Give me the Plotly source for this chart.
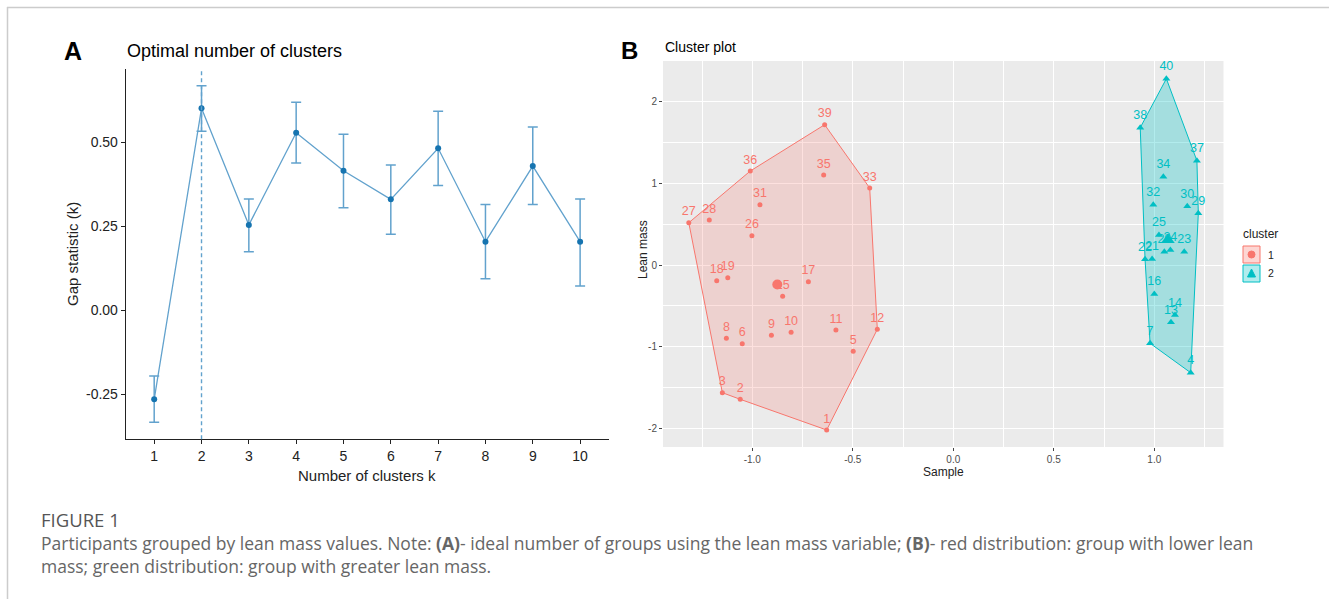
import plotly.graph_objects as go

# ---------------- data ----------------
k_values = [1, 2, 3, 4, 5, 6, 7, 8, 9, 10]
gap_stat = [-0.265, 0.601, 0.254, 0.528, 0.415, 0.330, 0.482, 0.204, 0.429, 0.204]
gap_upper = [-0.196, 0.668, 0.331, 0.619, 0.524, 0.432, 0.592, 0.315, 0.545, 0.331]
gap_lower = [-0.333, 0.533, 0.174, 0.438, 0.305, 0.226, 0.371, 0.094, 0.315, 0.072]
optimal_k = 2

a_ytickvals = [-0.25, 0.0, 0.25, 0.50]
a_yticktext = ["-0.25", "0.00", "0.25", "0.50"]

c1_ids = [1, 2, 3, 5, 6, 8, 9, 10, 11, 12, 15, 17, 18, 19, 26, 27, 28, 31, 33, 35, 36, 39]
c1_x = [-0.630, -1.060, -1.149, -0.498, -1.050, -1.129, -0.905, -0.807, -0.584, -0.378, -0.849,
        -0.721, -1.177, -1.122, -1.002, -1.316, -1.214, -0.962, -0.416, -0.645, -1.010, -0.640]
c1_y = [-2.022, -1.646, -1.565, -1.058, -0.964, -0.899, -0.862, -0.825, -0.797, -0.788, -0.384,
        -0.204, -0.192, -0.155, 0.359, 0.518, 0.551, 0.739, 0.944, 1.103, 1.152, 1.719]

c2_ids = [4, 7, 13, 14, 16, 20, 21, 22, 23, 24, 25, 29, 30, 32, 34, 37, 38, 40]
c2_x = [1.181, 0.979, 1.083, 1.103, 1.000, 1.050, 0.989, 0.954, 1.149, 1.080, 1.023, 1.219,
        1.164, 0.995, 1.045, 1.212, 0.930, 1.060]
c2_y = [-1.320, -0.960, -0.702, -0.613, -0.355, 0.163, 0.074, 0.070, 0.163, 0.184, 0.368, 0.633,
        0.719, 0.739, 1.082, 1.278, 1.683, 2.283]

b_xtickvals = [-1.0, -0.5, 0.0, 0.5, 1.0]
b_xticktext = ["-1.0", "-0.5", "0.0", "0.5", "1.0"]
b_ytickvals = [-2, -1, 0, 1, 2]
b_yticktext = ["-2", "-1", "0", "1", "2"]

cluster_names = ["1", "2"]

# ---------------- helpers ----------------
W, H = 1329, 599


def fx(p):
    return p / W


def fy(p):
    return 1 - p / H


def hull(xs, ys):
    pts = sorted(set(zip(xs, ys)))

    def cross(o, a, b):
        return (a[0] - o[0]) * (b[1] - o[1]) - (a[1] - o[1]) * (b[0] - o[0])

    lower, upper = [], []
    for p in pts:
        while len(lower) >= 2 and cross(lower[-2], lower[-1], p) <= 0:
            lower.pop()
        lower.append(p)
    for p in reversed(pts):
        while len(upper) >= 2 and cross(upper[-2], upper[-1], p) <= 0:
            upper.pop()
        upper.append(p)
    h = lower[:-1] + upper[:-1]
    h.append(h[0])
    return [p[0] for p in h], [p[1] for p in h]


RED = "#F8766D"
CYAN = "#00BFC4"
LINE_BLUE = "#62a2cd"
PT_BLUE = "#1674b0"
FONT = "Liberation Sans, Arial, sans-serif"
CAP_FONT = "Open Sans"

fig = go.Figure()

# ---------------- Panel A ----------------
fig.add_trace(go.Scatter(
    x=k_values, y=gap_stat, mode="lines+markers",
    line=dict(color=LINE_BLUE, width=1.3),
    marker=dict(color=PT_BLUE, size=6),
    error_y=dict(type="data", symmetric=False,
                 array=[u - g for u, g in zip(gap_upper, gap_stat)],
                 arrayminus=[g - l for g, l in zip(gap_stat, gap_lower)],
                 color=LINE_BLUE, thickness=1.5, width=5),
    xaxis="x", yaxis="y", showlegend=False, hoverinfo="skip"))

# ---------------- Panel B ----------------
for ids, xs, ys, col, sym, msize, fill in [
    (c1_ids, c1_x, c1_y, RED, "circle", 5, "rgba(248,118,109,0.22)"),
    (c2_ids, c2_x, c2_y, CYAN, "triangle-up", 7, "rgba(0,191,196,0.30)"),
]:
    hx, hy = hull(xs, ys)
    fig.add_trace(go.Scatter(
        x=hx, y=hy, mode="lines", fill="toself", fillcolor=fill,
        line=dict(color=col, width=1), xaxis="x2", yaxis="y2",
        showlegend=False, hoverinfo="skip"))
    fig.add_trace(go.Scatter(
        x=xs, y=ys, mode="markers+text", text=[str(i) for i in ids],
        textposition="top center", textfont=dict(color=col, size=12.5, family=FONT),
        marker=dict(color=col, size=msize, symbol=sym),
        xaxis="x2", yaxis="y2", showlegend=False, hoverinfo="skip"))
    cx = sum(xs) / len(xs)
    cy = sum(ys) / len(ys)
    fig.add_trace(go.Scatter(
        x=[cx], y=[cy], mode="markers",
        marker=dict(color=col, size=msize + 5, symbol=sym),
        xaxis="x2", yaxis="y2", showlegend=False, hoverinfo="skip"))

shapes = []
annotations = []

# panel B gray background
shapes.append(dict(type="rect", xref="x2 domain", yref="y2 domain", x0=0, x1=1, y0=0, y1=1,
                   fillcolor="#EBEBEB", line=dict(width=0), layer="below"))
# dashed optimal k line
shapes.append(dict(type="line", xref="x", yref="y domain", x0=optimal_k, x1=optimal_k, y0=0, y1=1,
                   line=dict(color=LINE_BLUE, width=1.4, dash="4px,3px")))
# page border lines
shapes.append(dict(type="line", xref="paper", yref="paper", x0=fx(7), x1=1, y0=fy(7.5), y1=fy(7.5),
                   line=dict(color="#cccccc", width=1.5)))
shapes.append(dict(type="line", xref="paper", yref="paper", x0=fx(7.5), x1=fx(7.5), y0=fy(7), y1=0,
                   line=dict(color="#cccccc", width=1.5)))

# legend (manual, ggplot style)
annotations.append(dict(text="cluster", x=fx(1241), y=fy(234), xref="paper", yref="paper",
                        xanchor="left", yanchor="middle", showarrow=False,
                        font=dict(size=12, color="#222", family=FONT)))
for i, (name, col, fill) in enumerate([(cluster_names[0], RED, "rgba(248,118,109,0.3)"),
                                       (cluster_names[1], CYAN, "rgba(0,191,196,0.3)")]):
    top = 246 + i * 19
    shapes.append(dict(type="rect", xref="paper", yref="paper",
                       x0=fx(1243), x1=fx(1260), y0=fy(top + 17), y1=fy(top),
                       fillcolor=fill, line=dict(color=col, width=1)))
    cxp, cyp = 1251.5, top + 8.5
    if i == 0:
        shapes.append(dict(type="circle", xref="paper", yref="paper",
                           x0=fx(cxp - 3.5), x1=fx(cxp + 3.5), y0=fy(cyp + 3.5), y1=fy(cyp - 3.5),
                           fillcolor=col, line=dict(color=col, width=1)))
    else:
        shapes.append(dict(type="path", xref="paper", yref="paper",
                           path=f"M {fx(cxp - 4)} {fy(cyp + 3.5)} L {fx(cxp + 4)} {fy(cyp + 3.5)} "
                                f"L {fx(cxp)} {fy(cyp - 4.5)} Z",
                           fillcolor=col, line=dict(color=col, width=1)))
    annotations.append(dict(text=name, x=fx(1266), y=fy(cyp), xref="paper", yref="paper",
                            xanchor="left", yanchor="middle", showarrow=False,
                            font=dict(size=10.5, color="#222", family=FONT)))

# panel letters and titles
annotations += [
    dict(text="<b>A</b>", x=fx(62), y=fy(51), xref="paper", yref="paper", xanchor="left",
         yanchor="middle", showarrow=False, font=dict(size=25, color="black", family=FONT)),
    dict(text="Optimal number of clusters", x=fx(125), y=fy(51), xref="paper", yref="paper",
         xanchor="left", yanchor="middle", showarrow=False,
         font=dict(size=18, color="black", family=FONT)),
    dict(text="<b>B</b>", x=fx(619), y=fy(50), xref="paper", yref="paper", xanchor="left",
         yanchor="middle", showarrow=False, font=dict(size=24, color="black", family=FONT)),
    dict(text="Cluster plot", x=fx(663), y=fy(47), xref="paper", yref="paper", xanchor="left",
         yanchor="middle", showarrow=False, font=dict(size=14, color="black", family=FONT)),
    dict(text="Gap statistic (k)", x=fx(72), y=fy(254), xref="paper", yref="paper",
         xanchor="center", yanchor="middle", textangle=-90, showarrow=False,
         font=dict(size=15, color="#222", family=FONT)),
    dict(text="Number of clusters k", x=fx(367), y=fy(475), xref="paper", yref="paper",
         xanchor="center", yanchor="middle", showarrow=False,
         font=dict(size=15, color="#222", family=FONT)),
    dict(text="Lean mass", x=fx(643), y=fy(250), xref="paper", yref="paper",
         xanchor="center", yanchor="middle", textangle=-90, showarrow=False,
         font=dict(size=12, color="#222", family=FONT)),
    dict(text="Sample", x=fx(943), y=fy(472), xref="paper", yref="paper",
         xanchor="center", yanchor="middle", showarrow=False,
         font=dict(size=12, color="#222", family=FONT)),
    # caption
    dict(text="FIGURE 1", x=fx(39), y=fy(519), xref="paper", yref="paper", xanchor="left",
         yanchor="middle", showarrow=False, font=dict(size=18.5, color="#555", family=CAP_FONT)),
    dict(text="Participants grouped by lean mass values. Note: <b>(A)</b>- ideal number of groups "
              "using the lean mass variable; <b>(B)</b>- red distribution: group with lower lean",
         x=fx(39), y=fy(543), xref="paper", yref="paper", xanchor="left", yanchor="middle",
         showarrow=False, font=dict(size=17.5, color="#666", family=CAP_FONT)),
    dict(text="mass; green distribution: group with greater lean mass.",
         x=fx(39), y=fy(566), xref="paper", yref="paper", xanchor="left", yanchor="middle",
         showarrow=False, font=dict(size=17.5, color="#666", family=CAP_FONT)),
]

fig.update_layout(
    width=W, height=H, autosize=False,
    margin=dict(l=0, r=0, t=0, b=0),
    paper_bgcolor="white", plot_bgcolor="white",
    font=dict(family=FONT),
    showlegend=False,
    shapes=shapes, annotations=annotations,
    xaxis=dict(domain=[fx(125.8), fx(608.5)], range=[0.4, 10.6], anchor="y",
               tickvals=k_values, ticktext=[str(k) for k in k_values],
               showline=True, linecolor="#222", linewidth=1.2, ticks="outside", ticklen=4,
               tickcolor="#222", tickfont=dict(size=14, color="#222"), showgrid=False,
               zeroline=False, fixedrange=True),
    yaxis=dict(domain=[fy(439.3), fy(69.3)], range=[-0.384, 0.717], anchor="x",
               tickvals=a_ytickvals, ticktext=a_yticktext,
               showline=True, linecolor="#222", linewidth=1.2, ticks="outside", ticklen=4,
               tickcolor="#222", tickfont=dict(size=14, color="#222"), showgrid=False,
               zeroline=False, fixedrange=True),
    xaxis2=dict(domain=[fx(663), fx(1223.5)], range=[-1.4443, 1.3443], anchor="y2",
                tickvals=b_xtickvals, ticktext=b_xticktext,
                showline=False, ticks="outside", ticklen=3, tickcolor="#444",
                tickfont=dict(size=10, color="#4D4D4D"),
                showgrid=True, gridcolor="white", gridwidth=1.1,
                minor=dict(dtick=0.25, tick0=0, showgrid=True, gridcolor="white", gridwidth=0.5),
                zeroline=False, fixedrange=True),
    yaxis2=dict(domain=[fy(447), fy(61)], range=[-2.2304, 2.5], anchor="x2",
                tickvals=b_ytickvals, ticktext=b_yticktext,
                showline=False, ticks="outside", ticklen=3, tickcolor="#444",
                tickfont=dict(size=10, color="#4D4D4D"),
                showgrid=True, gridcolor="white", gridwidth=1.1,
                minor=dict(dtick=0.5, tick0=0, showgrid=True, gridcolor="white", gridwidth=0.5),
                zeroline=False, fixedrange=True),
)

fig.write_html("out.html", config={"displayModeBar": False},
               post_script="document.body.style.margin='0';document.body.style.overflow='hidden';")
